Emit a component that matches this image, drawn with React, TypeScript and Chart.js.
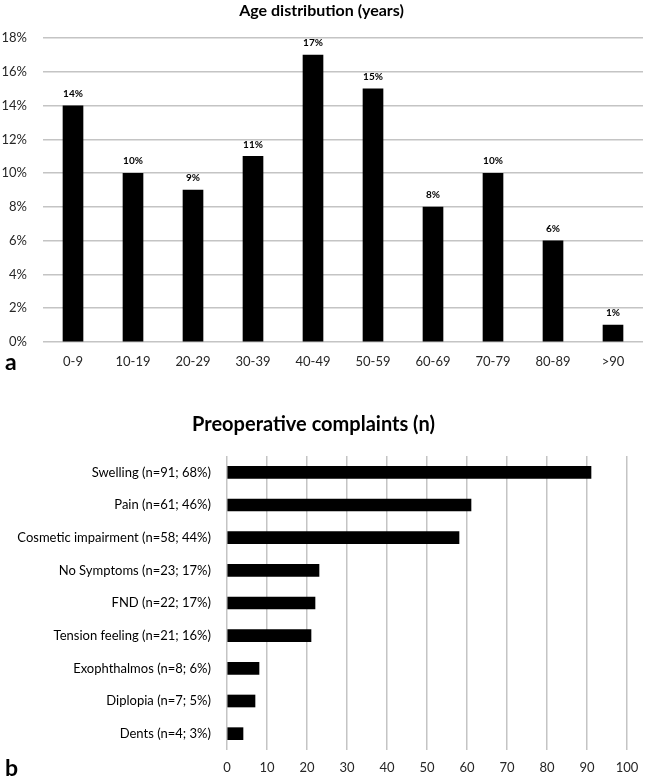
import React, { useEffect, useRef } from 'react';
import { Chart, registerables } from 'chart.js';
Chart.register(...registerables);

const FONT = 'Lato, "Open Sans", "DejaVu Sans", sans-serif';

const ageCategories = ['0-9', '10-19', '20-29', '30-39', '40-49', '50-59', '60-69', '70-79', '80-89', '>90'];
const agePercent = [14, 10, 9, 11, 17, 15, 8, 10, 6, 1];

const complaintLabels = [
  'Swelling (n=91; 68%)',
  'Pain (n=61; 46%)',
  'Cosmetic impairment (n=58; 44%)',
  'No Symptoms (n=23; 17%)',
  'FND (n=22; 17%)',
  'Tension feeling (n=21; 16%)',
  'Exophthalmos (n=8; 6%)',
  'Diplopia (n=7; 5%)',
  'Dents (n=4; 3%)',
];
const complaintCounts = [91, 61, 58, 23, 22, 21, 8, 7, 4];

const barValueLabels = {
  id: 'barValueLabels',
  afterDatasetsDraw(chart: any) {
    const ctx = chart.ctx;
    const meta = chart.getDatasetMeta(0);
    const data = chart.data.datasets[0].data as number[];
    ctx.save();
    ctx.font = `bold 10px ${FONT}`;
    ctx.fillStyle = '#000';
    ctx.textAlign = 'center';
    ctx.textBaseline = 'middle';
    meta.data.forEach((bar: any, i: number) => {
      ctx.fillText(`${data[i]}%`, bar.x, bar.y - 12);
    });
    ctx.restore();
  },
};

export default function App() {
  const refA = useRef<HTMLCanvasElement>(null);
  const refB = useRef<HTMLCanvasElement>(null);

  useEffect(() => {
    Chart.defaults.font.family = FONT;
    const chartA = new Chart(refA.current!, {
      type: 'bar',
      data: {
        labels: ageCategories,
        datasets: [{ data: agePercent, backgroundColor: '#000', barThickness: 20 }],
      },
      options: {
        responsive: false,
        animation: false,
        layout: { padding: { left: 0, right: 6, top: 0, bottom: 0 } },
        plugins: {
          legend: { display: false },
          tooltip: { enabled: false },
          title: {
            display: true,
            text: 'Age distribution (years)',
            color: '#000',
            font: { size: 16, weight: 'bold', family: FONT },
            padding: { top: 1, bottom: 18 },
          },
        },
        scales: {
          x: {
            grid: { display: false, drawTicks: false },
            border: { display: false },
            ticks: { color: '#262626', font: { size: 13, family: FONT }, padding: 12, maxRotation: 0, autoSkip: false },
            afterFit: (s: any) => { s.height = 48; },
          },
          y: {
            min: 0,
            max: 18,
            ticks: { stepSize: 2, callback: (v: any) => `${v}%`, color: '#262626', font: { size: 13, family: FONT }, padding: 16 },
            grid: { color: '#c4c4c4', lineWidth: 1.5, drawTicks: false },
            border: { display: false },
            afterFit: (s: any) => { s.width = 43; },
          },
        },
      } as any,
      plugins: [barValueLabels],
    });

    const chartB = new Chart(refB.current!, {
      type: 'bar',
      data: {
        labels: complaintLabels,
        datasets: [{ data: complaintCounts, backgroundColor: '#000', barThickness: 12 }],
      },
      options: {
        indexAxis: 'y',
        responsive: false,
        animation: false,
        layout: { padding: { left: 0, right: 22, top: 0, bottom: 0 } },
        plugins: {
          legend: { display: false },
          tooltip: { enabled: false },
          title: {
            display: true,
            text: 'Preoperative complaints (n)',
            color: '#000',
            font: { size: 20, weight: 'bold', family: FONT },
            padding: { top: 23, bottom: 19 },
          },
        },
        scales: {
          x: {
            min: 0,
            max: 100,
            ticks: { stepSize: 10, color: '#262626', font: { size: 13, family: FONT }, padding: 10 },
            grid: { color: '#c4c4c4', lineWidth: 1.5, drawTicks: false },
            border: { display: false },
            afterFit: (s: any) => { s.height = 28; },
          },
          y: {
            grid: { display: false, drawTicks: false },
            border: { display: false },
            ticks: { color: '#000', font: { size: 13, family: FONT }, padding: 16, autoSkip: false },
            afterFit: (s: any) => { s.width = 227; },
          },
        },
      } as any,
    });

    return () => {
      chartA.destroy();
      chartB.destroy();
    };
  }, []);

  const letterStyle: React.CSSProperties = {
    position: 'absolute',
    left: 5,
    fontFamily: FONT,
    fontWeight: 'bold',
    fontSize: 23,
    lineHeight: '23px',
    color: '#000',
  };

  return (
    <div style={{ position: 'absolute', left: 0, top: 0, width: 649, height: 778, overflow: 'hidden', background: '#fff' }}>
      <canvas ref={refA} width={649} height={390} style={{ position: 'absolute', left: 0, top: 0, width: 649, height: 390 }} />
      <canvas ref={refB} width={649} height={388} style={{ position: 'absolute', left: 0, top: 390, width: 649, height: 388 }} />
      <div style={{ ...letterStyle, top: 350 }}>a</div>
      <div style={{ ...letterStyle, top: 756 }}>b</div>
    </div>
  );
}
